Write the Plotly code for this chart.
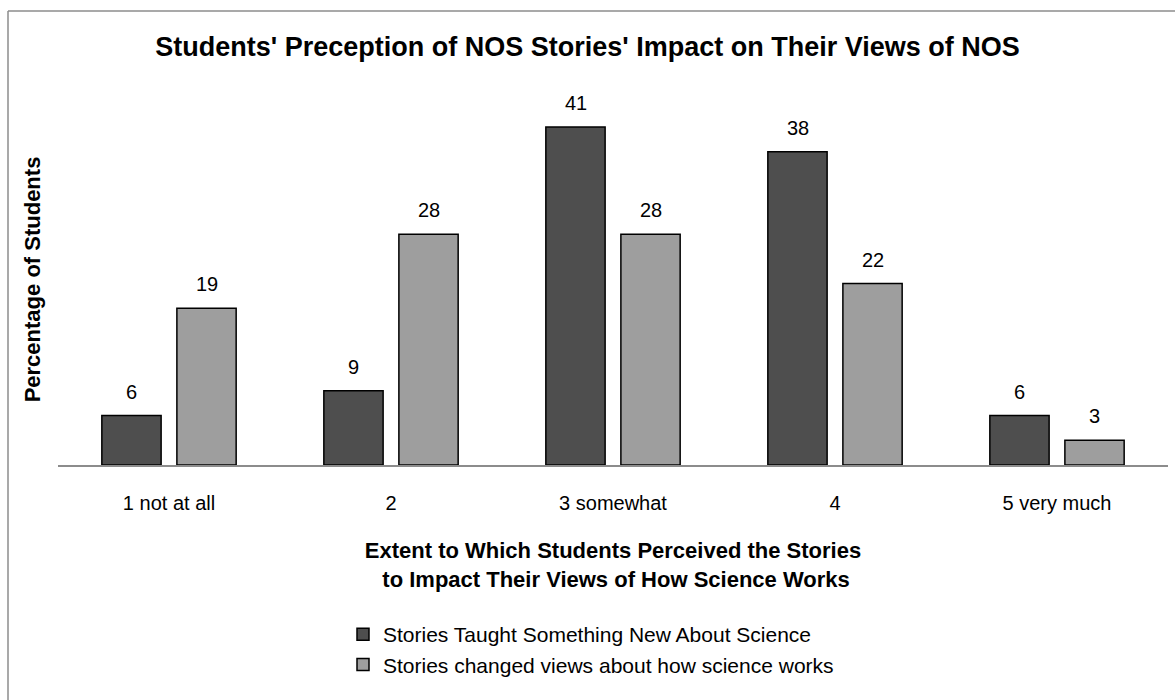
import plotly.graph_objects as go

categories = ["1 not at all", "2", "3 somewhat", "4", "5 very much"]
taught_new = [6, 9, 41, 38, 6]
changed_views = [19, 28, 28, 22, 3]
series_names = ["Stories Taught Something New About Science",
                "Stories changed views about how science works"]

W, H = 1175, 700
ml, mr, mt, mb = 58, 7, 94, 235
pw = W - ml - mr
ph = H - mt - mb
FONT = "Liberation Sans, Arial"

fig = go.Figure()
fig.add_trace(go.Bar(
    x=categories, y=taught_new, name=series_names[0],
    marker=dict(color="#4e4e4e", line=dict(color="#000000", width=1.5)),
))
fig.add_trace(go.Bar(
    x=categories, y=changed_views, name=series_names[1],
    marker=dict(color="#9e9e9e", line=dict(color="#000000", width=1.5)),
))

# value labels above bars (positioned via data coordinates: category index, value)
annotations = []
half_slot = 37.5
for vals, sh in ((taught_new, -half_slot), (changed_views, half_slot)):
    for i, v in enumerate(vals):
        annotations.append(dict(
            x=i, y=v, xref="x", yref="y", text=str(v), showarrow=False,
            xshift=sh, yshift=24, yanchor="middle", xanchor="center",
            font=dict(size=20, color="#000000", family=FONT),
        ))

def px_x(x):
    return (x - ml) / pw

def px_y(y):
    return (H - mb - y) / ph

fig.update_layout(
    width=W, height=H,
    margin=dict(l=ml, r=mr, t=mt, b=mb),
    paper_bgcolor="white", plot_bgcolor="white",
    font=dict(family=FONT, color="#000000"),
    barmode="group", bargap=0.324, bargroupgap=0.21,
    showlegend=True,
    legend=dict(
        orientation="v", x=px_x(343), xanchor="left", y=px_y(614), yanchor="top",
        font=dict(size=21), itemwidth=30, tracegroupgap=0,
        bgcolor="rgba(0,0,0,0)",
    ),
    title=dict(
        text="<b>Students' Preception of NOS Stories' Impact on Their Views of NOS</b>",
        x=0.5, xanchor="center", y=1 - 47 / H, yanchor="middle",
        font=dict(size=27),
    ),
    xaxis=dict(
        type="category",
        showline=True, linecolor="#8c8c8c", linewidth=1.5,
        ticks="", tickfont=dict(size=20), showgrid=False, zeroline=False,
        ticklabelstandoff=19,
        title=dict(
            text="<b>Extent to Which Students Perceived the Stories<br> to Impact Their Views of How Science Works</b>",
            font=dict(size=22), standoff=30,
        ),
    ),
    yaxis=dict(
        range=[0, 45], showticklabels=False, showgrid=False, zeroline=False,
        showline=False, ticks="",
        title=dict(text="<b>Percentage of Students</b>", font=dict(size=22), standoff=10),
    ),
    annotations=annotations,
    shapes=[
        dict(type="line", xref="paper", yref="paper",
             x0=px_x(8), x1=px_x(1175), y0=px_y(11), y1=px_y(11),
             line=dict(color="#8c8c8c", width=1.5)),
        dict(type="line", xref="paper", yref="paper",
             x0=px_x(8), x1=px_x(8), y0=px_y(11), y1=px_y(700),
             line=dict(color="#8c8c8c", width=1.5)),
    ],
)

fig.write_html("out.html")
